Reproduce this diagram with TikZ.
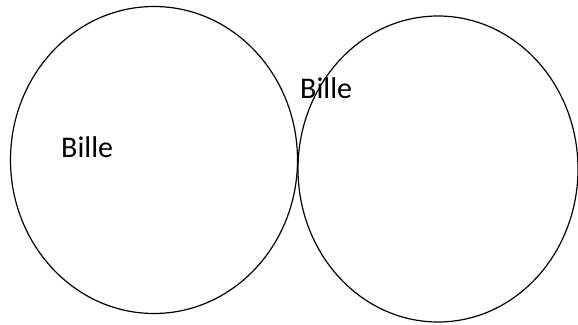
\documentclass[tikz,border=0pt]{standalone}
\usepackage{fontspec}
\setmainfont{Carlito}
\usepackage{tikz}
\usetikzlibrary{positioning,shapes.geometric}
\tikzset{
  ball/.style  = {ellipse, draw=black, line width=1.2pt, inner sep=0pt},
  lbl/.style   = {anchor=base west, inner sep=0pt, font=\fontsize{30}{36}\selectfont},
}
\begin{document}
\begin{tikzpicture}[x=1pt, y=1pt]
  \useasboundingbox (0,0) rectangle (578,324);
  \node[ball, minimum width=287pt, minimum height=307pt] (left) at (154,164) {};
  \node[ball, minimum width=280pt, minimum height=306pt] (right) at (438,155) {};
  \node[lbl] (leftlbl) at (61,166.5) {Bille};
  \node[lbl] (rightlbl) at (300,225.5) {Bille};
\end{tikzpicture}
\end{document}
